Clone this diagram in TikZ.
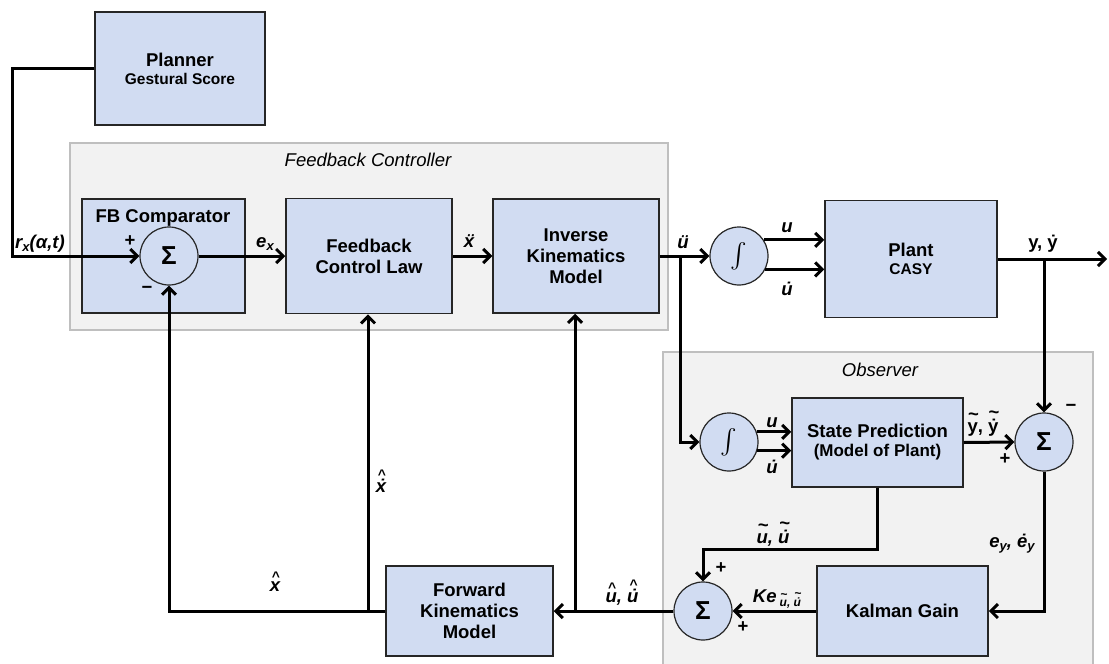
\documentclass[tikz,border=0pt]{standalone}
\usepackage{amsmath}
\usepackage{fontspec}
\setmainfont{Liberation Sans}
\usetikzlibrary{arrows.meta}

\definecolor{blockFill}{RGB}{209,220,242}
\definecolor{panelFill}{RGB}{242,242,242}
\definecolor{panelLine}{RGB}{191,191,191}

% mark set over a letter, optional raise
\newcommand{\accover}[3][0pt]{\leavevmode\ooalign{#3\cr\hidewidth\kern0.08em\raisebox{#1}{#2}\hidewidth\cr}}
\newcommand{\dotover}[1]{\accover{˙}{#1}}
\newcommand{\ddotover}[1]{\accover{¨}{#1}}
\newcommand{\hatover}[1]{\accover[0.5em]{\scalebox{0.75}{\textasciicircum}}{#1}}
\newcommand{\hatdotover}[1]{\accover[0.66em]{\scalebox{0.75}{\textasciicircum}}{\dotover{#1}}}
\newcommand{\tildeover}[1]{\accover[0.62em]{\textasciitilde}{#1}}
\newcommand{\tildedotover}[1]{\accover[0.74em]{\textasciitilde}{\dotover{#1}}}
\newcommand{\lowsub}[1]{\raisebox{-3.5pt}{\fontsize{13}{13}\selectfont #1}}

\begin{document}
\begin{tikzpicture}
[x=1pt,y=-1pt,
  blockDecorate/.style={shape=rectangle,draw=black!85,line width=1.5pt,fill=blockFill,align=center,inner sep=0pt},%
  sumDecorate/.style={shape=circle,draw=black!85,line width=1.2pt,fill=blockFill,minimum size=58pt,inner sep=0pt},%
  panelDecorate/.style={draw=panelLine,line width=1.2pt,fill=panelFill},%
  lineDecorate/.style={-,line width=3pt},%
  arrowDecorate/.style={line width=3pt,-{Straight Barb[length=7pt,width=14pt]}},%
  labelDecorate/.style={inner sep=0pt,anchor=base,font=\itshape}]
\fontsize{18.5}{21}\selectfont\bfseries
\useasboundingbox (0,0) rectangle (1109,664);
%% panels
\draw[panelDecorate] (70,143) rectangle (668,330);
\draw[panelDecorate] (663,352) rectangle (1093,690);
\node (fbTitle) at (368,160) {\mdseries\itshape Feedback Controller};
\node (obsTitle) at (880,370) {\mdseries\itshape Observer};
%% blocks
\foreach \nodename/\x/\y/\w/\h/\txt in {
  planner/180/68.5/170/113/{Planner\\[-3pt]{\fontsize{15.5}{17}\selectfont Gestural Score}},
  fbComp/163.5/256/163/114/{},
  fcl/369/256/166/115/{Feedback\\Control Law},
  ikm/576/256/166/114/{Inverse\\Kinematics\\Model},
  plant/911/259/172/117/{Plant\\[-3pt]{\fontsize{15.5}{17}\selectfont CASY}},
  statePred/877.5/442.5/171/89/{State Prediction\\[-2pt]{\fontsize{17}{19}\selectfont(Model of Plant)}},
  kalman/902.5/611/171/90/{Kalman Gain},
  fkm/469.5/611/167/90/{Forward\\Kinematics\\Model}}
{
  \node (\nodename) at (\x,\y) [blockDecorate,minimum width=\w pt,minimum height=\h pt] {\txt};
}
\node (fbCompTitle) at (163,218) {FB Comparator};
%% sums and integrators
\foreach \nodename/\x/\y/\sym in {
  sumFb/169/256/{\fontsize{26}{26}\selectfont Σ},
  intU/739/256/{\fontsize{25}{25}\selectfont$\int$},
  intObs/729/442/{\fontsize{25}{25}\selectfont$\int$},
  sumObs/1044/442/{\fontsize{26}{26}\selectfont Σ},
  sumEst/703/611/{\fontsize{26}{26}\selectfont Σ}}
{
  \node (\nodename) at (\x,\y) [sumDecorate] {\sym};
}
%% free ends and branch points
\coordinate (rxIn) at (12,256);
\coordinate (yOut) at (1107,259);
\coordinate (yBranch) at (1044,259);
\coordinate (uBranch) at (680,256);
\coordinate (uHatBranch) at (575,611);
\coordinate (xHatBranch) at (368,611);
%% forward path
\draw[arrowDecorate] (planner.west) -| (rxIn) -- (sumFb.west);
\draw[arrowDecorate] (sumFb.east) -- (fcl.west);
\draw[arrowDecorate] (fcl.east) -- (ikm.west);
\draw[arrowDecorate] (ikm.east) -- (intU.west);
\draw[arrowDecorate] (intU.33) -- (intU.33 -| plant.west);
\draw[arrowDecorate] (intU.-27) -- (intU.-27 -| plant.west);
\draw[arrowDecorate] (plant.east) -- (yOut);
%% observer
\draw[arrowDecorate] (uBranch) |- (intObs.west);
\draw[arrowDecorate] (intObs.20) -- (intObs.20 -| statePred.west);
\draw[arrowDecorate] (intObs.-17) -- (intObs.-17 -| statePred.west);
\draw[arrowDecorate] (statePred.east) -- (sumObs.west);
\draw[arrowDecorate] (yBranch) -- (sumObs.north);
\draw[arrowDecorate] (sumObs.south) |- (kalman.east);
\draw[arrowDecorate] (kalman.west) -- (sumEst.east);
\draw[arrowDecorate] (statePred.south) -- ++(0,62) -| (sumEst.north);
%% feedback path
\draw[arrowDecorate] (sumEst.west) -- (fkm.east);
\draw[arrowDecorate] (uHatBranch) -- (uHatBranch |- ikm.south);
\draw[arrowDecorate] (fkm.west) -| (sumFb.south);
\draw[arrowDecorate] (xHatBranch) -- (xHatBranch |- fcl.south);
%% signal labels
\node[labelDecorate] (rxLabel) at (40,248) {r\lowsub{x}(α,t)};
\node[labelDecorate] (exLabel) at (265,247) {e\lowsub{x}};
\node[labelDecorate] (xddLabel) at (469,247) {\ddotover{x}};
\node[labelDecorate] (uddLabel) at (683,248) {\ddotover{u}};
\node[labelDecorate] (uLabel) at (787,232) {u};
\node[labelDecorate] (udLabel) at (787,295) {\dotover{u}};
\node[labelDecorate,font=\upshape] (yLabel) at (1043,248) {y, \dotover{y}};
\node[labelDecorate] (uObsLabel) at (772,427) {u};
\node[labelDecorate] (udObsLabel) at (772,473) {\dotover{u}};
\node[labelDecorate,font=\upshape] (yTildeLabel) at (983,432) {\tildeover{y}, \tildedotover{y}};
\node[labelDecorate] (eyLabel) at (1012,547) {e\lowsub{y}, \dotover{e}\lowsub{y}};
\node[labelDecorate] (keLabel) at (777,602) {Ke\,\raisebox{-4pt}{\fontsize{12}{12}\selectfont\tildeover{u}, \tildedotover{u}}};
\node[labelDecorate] (uTildeLabel) at (773,543) {\tildeover{u}, \tildedotover{u}};
\node[labelDecorate] (uHatLabel) at (622,602) {\hatover{u}, \hatdotover{u}};
\node[labelDecorate] (xHatLabel) at (275,591) {\hatover{x}};
\node[labelDecorate] (xHatDotLabel) at (381,492) {\hatdotover{x}};
%% signs
\node (plusFb) at (130,241) {+};
\node (minusFb) at (147,290) {−};
\node (plusObs) at (1005,459) {+};
\node (minusObs) at (1071,408) {−};
\node (plusEstTop) at (721,568) {+};
\node (plusEstRight) at (743,627) {+};
\end{tikzpicture}
\end{document}
